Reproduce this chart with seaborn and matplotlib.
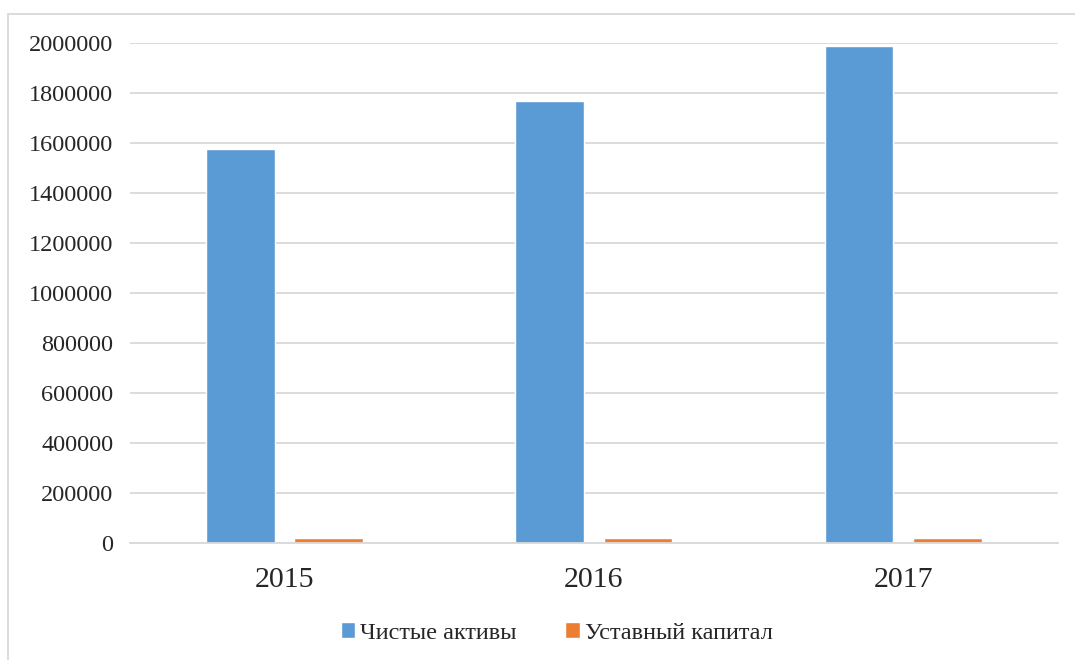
import seaborn as sns
import pandas as pd
import matplotlib.pyplot as plt
from matplotlib.patches import Rectangle

years = ['2015', '2016', '2017']
net_assets = [1576000, 1768000, 1988000]
charter_capital = [22000, 22000, 22000]
series_names = ['Чистые активы', 'Уставный капитал']
colors = ['#5B9BD5', '#ED7D31']

df = pd.DataFrame({
    'year': years * 2,
    'value': net_assets + charter_capital,
    'series': [series_names[0]] * 3 + [series_names[1]] * 3,
})

sns.set_style('white')
plt.rcParams['font.family'] = ['Liberation Serif', 'DejaVu Serif']

fig = plt.figure(figsize=(10.75, 6.6), dpi=100)
ax = fig.add_axes([0.121, 0.177, 0.863, 0.758])

sns.barplot(data=df, x='year', y='value', hue='series', palette=colors,
            width=0.57, gap=0.22, ax=ax, saturation=1, errorbar=None)

ax.set_ylim(0, 2000000)
ax.set_yticks(range(0, 2000001, 200000))
ax.set_yticklabels([str(v) for v in range(0, 2000001, 200000)], fontsize=17.5)
ax.tick_params(axis='x', labelsize=21.5, pad=17, length=0)
ax.tick_params(axis='y', length=0, pad=12)
ax.set_xlabel('')
ax.set_ylabel('')
ax.yaxis.grid(True, color='#d9d9d9', linewidth=1.3)
ax.set_axisbelow(True)
for s in ['top', 'right', 'left']:
    ax.spines[s].set_visible(False)
ax.spines['bottom'].set_color('#d9d9d9')
ax.spines['bottom'].set_linewidth(1.3)

ax.legend_.remove()
handles, labels = ax.get_legend_handles_labels()
fig.legend(handles, labels, loc='center', bbox_to_anchor=(0.518, 0.041), ncol=2,
           frameon=False, fontsize=17.5, handlelength=0.6, handleheight=0.6,
           handletextpad=0.2, columnspacing=2.0)

fig.patches.append(Rectangle((8 / 1075, -0.1), 1.2, 1.1 - 14 / 660, transform=fig.transFigure,
                             fill=False, edgecolor='#d9d9d9', linewidth=1.3))

fig.savefig('out.png', dpi=100)
